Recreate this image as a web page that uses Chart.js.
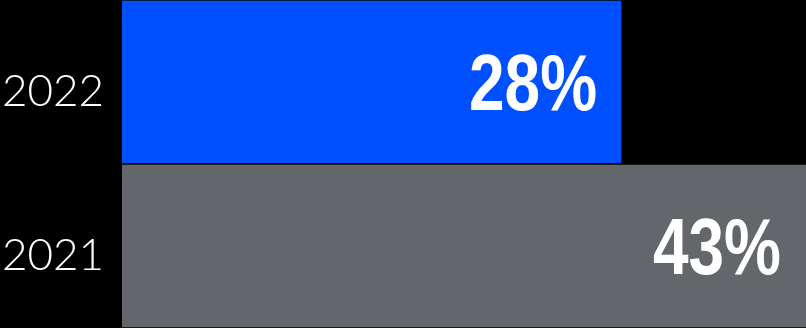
<!DOCTYPE html>
<html>
<head>
<meta charset="utf-8">
<script src="https://cdn.jsdelivr.net/npm/chart.js@4"></script>
<style>
  html, body { margin: 0; padding: 0; background: #000; }
  #wrap { width: 806px; height: 328px; }
</style>
</head>
<body>
<div id="wrap"><canvas id="shareChart"></canvas></div>
<script>
const years = ["2022", "2021"];
const shares = [28, 43];
const barColors = ["#0050ff", "#63666a"];

// Percent labels inside the right end of each bar (condensed heavy look)
const valueLabels = {
  id: "valueLabels",
  afterDatasetsDraw(chart) {
    const { ctx, chartArea } = chart;
    const meta = chart.getDatasetMeta(0);
    ctx.save();
    ctx.fillStyle = "#fff";
    ctx.font = "bold 80px 'Liberation Sans', Arial, sans-serif";
    ctx.textAlign = "right";
    ctx.textBaseline = "alphabetic";
    meta.data.forEach((bar, i) => {
      const x = Math.min(bar.x, chartArea.right) - 25;
      const y = bar.y + 28;
      ctx.save();
      ctx.translate(x, y);
      ctx.scale(0.8, 1);
      ctx.fillText(shares[i] + "%", 0, 0);
      ctx.restore();
    });
    ctx.restore();
  }
};

new Chart(document.getElementById("shareChart"), {
  type: "bar",
  data: {
    labels: years,
    datasets: [{
      data: shares,
      backgroundColor: barColors,
      borderColor: "#000",
      borderWidth: 1,
      barPercentage: 1,
      categoryPercentage: 1
    }]
  },
  options: {
    indexAxis: "y",
    responsive: true,
    maintainAspectRatio: false,
    animation: false,
    layout: { padding: { left: 2 } },
    plugins: {
      legend: { display: false },
      tooltip: { enabled: false }
    },
    scales: {
      x: {
        display: false,
        min: 0,
        max: 38.3
      },
      y: {
        grid: { display: false },
        border: { display: false },
        afterFit(scale) {
          scale.width = 120;
          scale.paddingTop = 0;
          scale.paddingBottom = 0;
        },
        ticks: {
          color: "#fff",
          crossAlign: "far",
          labelOffset: 10,
          font: { family: "Lato, 'Open Sans', sans-serif", size: 44, weight: 300 }
        }
      }
    }
  },
  plugins: [valueLabels]
});
</script>
</body>
</html>
